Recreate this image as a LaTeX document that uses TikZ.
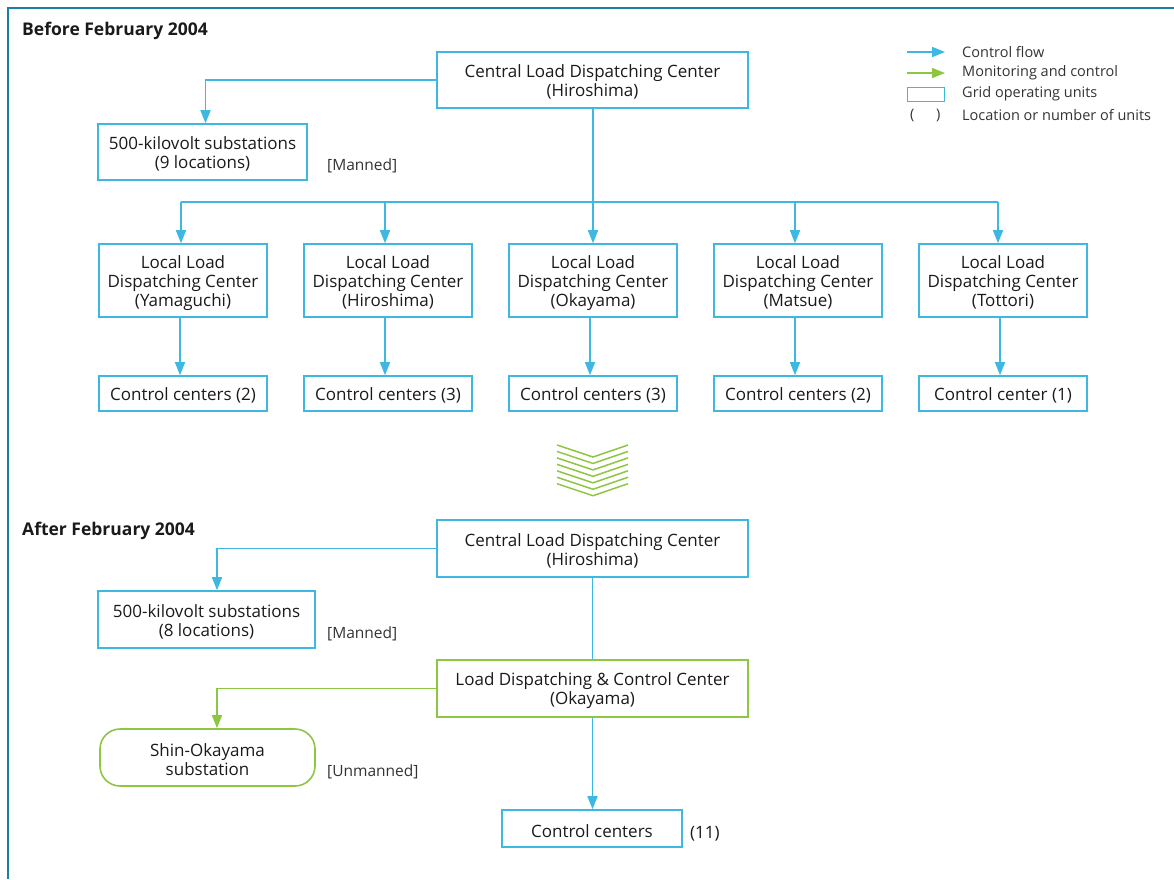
\documentclass[tikz,border=0pt]{standalone}
\usepackage{fontspec}
\setmainfont{Open Sans}
\usetikzlibrary{arrows.meta,calc}
\definecolor{cblue}{HTML}{3DB8E2}
\definecolor{cgreen}{HTML}{8DC63F}
\definecolor{frameblue}{HTML}{1A7EA6}
\definecolor{txt}{HTML}{1A1A1A}
\definecolor{gtxt}{HTML}{333333}
\newcommand{\tstrut}{\rule{0pt}{17.5pt}}
\begin{document}
\begin{tikzpicture}[x=1pt,y=-1pt,
  box/.style={draw=cblue,line width=1.6pt,align=center,inner sep=0pt,
    font=\fontsize{17}{19}\selectfont,text=txt},
  gbox/.style={box,draw=cgreen},
  note/.style={anchor=west,inner sep=0pt,font=\fontsize{15.5}{19}\selectfont,text=gtxt},
  legtext/.style={anchor=west,inner sep=0pt,font=\fontsize{14.5}{17}\selectfont,text=gtxt},
  title/.style={anchor=west,inner sep=0pt,font=\fontsize{17.5}{19}\selectfont\bfseries,text=txt},
  flow/.style={draw=cblue,line width=1.6pt,-{Triangle[length=13pt,width=10pt]}},
  flowline/.style={draw=cblue,line width=1.6pt},
  mon/.style={draw=cgreen,line width=1.6pt,-{Triangle[length=13pt,width=10pt]}},
  chev/.style={draw=cgreen,line width=1.5pt},
]
\useasboundingbox (0,0) rectangle (1174,879);
% frame
\draw[frameblue,line width=2.5pt] (8,879) -- (8,8) -- (1174,8);

% ---------- Before ----------
\node[title] (t1) at (22,31) {Before February 2004};
\node[box,minimum width=311pt,minimum height=56pt] (c1) at (592.5,80) {\tstrut Central Load Dispatching Center\\(Hiroshima)};
\node[box,minimum width=209pt,minimum height=56pt] (kv1) at (202.5,152) {\tstrut 500-kilovolt substations\\(9 locations)};
\node[note] (m1) at (327,166) {[Manned]};

\foreach \n/\x/\city in {l1/183/Yamaguchi,l2/388/Hiroshima,l3/593/Okayama,l4/798/Matsue,l5/1003/Tottori}{
  \node[box,minimum width=168pt,minimum height=73pt] (\n) at (\x,280.5) {\tstrut Local Load\\Dispatching Center\\(\city)};
}
\node[box,minimum width=168pt,minimum height=35pt] (k1) at (183,393.5) {\tstrut Control centers (2)};
\node[box,minimum width=168pt,minimum height=35pt] (k2) at (388,393.5) {\tstrut Control centers (3)};
\node[box,minimum width=168pt,minimum height=35pt] (k3) at (593,393.5) {\tstrut Control centers (3)};
\node[box,minimum width=168pt,minimum height=35pt] (k4) at (798,393.5) {\tstrut Control centers (2)};
\node[box,minimum width=168pt,minimum height=35pt] (k5) at (1003,393.5) {\tstrut Control center (1)};

\draw[flow] (c1.west) -| ([xshift=3pt]kv1.north);
\draw[flow] (c1.south -| l3.north) -- (l3.north);
\draw[flowline] ([xshift=-2pt]l1.north |- 0,202) -- ([xshift=-5pt]l5.north |- 0,202);
\draw[flow] ([xshift=-2pt]l1.north |- 0,202) -- ([xshift=-2pt]l1.north);
\draw[flow] ([xshift=-3pt]l2.north |- 0,202) -- ([xshift=-3pt]l2.north);
\draw[flow] ([xshift=-3pt]l4.north |- 0,202) -- ([xshift=-3pt]l4.north);
\draw[flow] ([xshift=-5pt]l5.north |- 0,202) -- ([xshift=-5pt]l5.north);
\foreach \i in {1,...,5}{
  \draw[flow] ([xshift=-3pt]l\i.south) -- ([xshift=-3pt]k\i.north);
}

% chevrons
\foreach \k in {0,...,6}{
  \draw[chev] (557,{445+6.45*\k}) -- (593,{457+6.45*\k}) -- (628,{445+6.45*\k});
}

% ---------- After ----------
\node[title] (t2) at (22,531) {After February 2004};
\node[box,minimum width=311pt,minimum height=57pt] (c2) at (592.5,548.5) {\tstrut Central Load Dispatching Center\\(Hiroshima)};
\node[box,minimum width=217pt,minimum height=57pt] (kv2) at (206.5,619.5) {\tstrut 500-kilovolt substations\\(8 locations)};
\node[note] (m2) at (327,634) {[Manned]};
\node[gbox,minimum width=311pt,minimum height=57pt] (ld) at (592.5,688.5) {\tstrut Load Dispatching \& Control Center\\(Okayama)};
\node[gbox,rounded corners=20pt,minimum width=215pt,minimum height=57pt] (sh) at (207.5,757.5) {\tstrut Shin-Okayama\\substation};
\node[note] (m3) at (327,772) {[Unmanned]};
\node[box,minimum width=180pt,minimum height=37pt] (k6) at (592,828.5) {\tstrut Control centers};
\node[note,font=\fontsize{17}{19}\selectfont,text=txt] (n11) at (690,834) {(11)};

\draw[flow] (c2.west) -| ([xshift=10.5pt]kv2.north);
\draw[flowline] (c2.south) -- (ld.north);
\draw[mon] (ld.west) -| ([xshift=9.5pt]sh.north);
\draw[flow] (ld.south) -- (ld.south |- k6.north);

% ---------- Legend ----------
\coordinate (a1) at (907,52);  \coordinate (a2) at (945,52);
\coordinate (b1) at (907,73);  \coordinate (b2) at (945,73);
\draw[flow] (a1) -- (a2);
\draw[mon] (b1) -- (b2);
\node[draw=cblue,line width=1.4pt,minimum width=37pt,minimum height=14pt,inner sep=0pt] (lr) at (926,94.5) {};
\node[legtext] (lp1) at (910,115) {(};
\node[legtext] (lp2) at (936,115) {)};
\node[legtext] (lt1) at (962,52) {Control flow};
\node[legtext] (lt2) at (962,73) {Monitoring and control};
\node[legtext] (lt3) at (962,94) {Grid operating units};
\node[legtext] (lt4) at (962,115) {Location or number of units};
\end{tikzpicture}
\end{document}
